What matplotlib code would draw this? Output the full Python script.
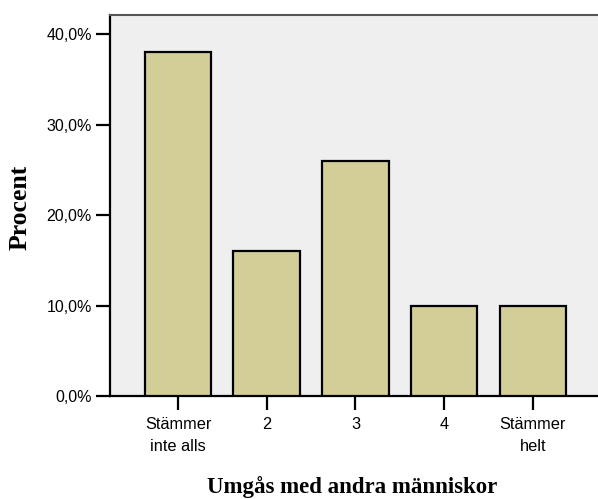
import numpy as np
import matplotlib
matplotlib.use('Agg')
import matplotlib.pyplot as plt

categories = ['Stämmer\ninte alls', '2', '3', '4', 'Stämmer\nhelt']
percent = [38.0, 16.0, 26.0, 10.0, 10.0]
yticks = [0, 10, 20, 30, 40]
ytick_labels = ['0,0%', '10,0%', '20,0%', '30,0%', '40,0%']

fig = plt.figure(figsize=(5.98, 4.99), dpi=100)
ax = fig.add_axes([110 / 598, 103 / 499, 488 / 598, 381 / 499])
ax.set_facecolor('#efefef')

x = np.arange(len(categories))
ax.bar(x, percent, width=0.75, color='#d3ce98', edgecolor='black', linewidth=1.6, zorder=3)

ax.set_xlim(-0.767, 4.735)
ax.set_ylim(0, 42.1)
ax.set_xticks(x)
ax.set_xticklabels(categories, fontsize=11.8, family='Liberation Sans', linespacing=1.6)
ax.set_yticks(yticks)
ax.set_yticklabels(ytick_labels, fontsize=11.5, family='Liberation Sans')
ax.tick_params(axis='both', length=10, width=1.6, color='black', pad=3)
ax.tick_params(axis='x', pad=5)

for s in ['left', 'bottom']:
    ax.spines[s].set_linewidth(1.6)
    ax.spines[s].set_color('black')
ax.spines['top'].set_color('#555555')
ax.spines['top'].set_linewidth(1.5)
ax.spines['right'].set_visible(False)

fig.text(352 / 598, 12 / 499, 'Umgås med andra människor', fontsize=16.5,
         fontweight='bold', family='Liberation Serif', ha='center', va='center')
fig.text(20 / 598, 292 / 499, 'Procent', fontsize=18.5, fontweight='bold',
         family='Liberation Serif', ha='center', va='center', rotation=90)

plt.savefig('out.png', dpi=100)
